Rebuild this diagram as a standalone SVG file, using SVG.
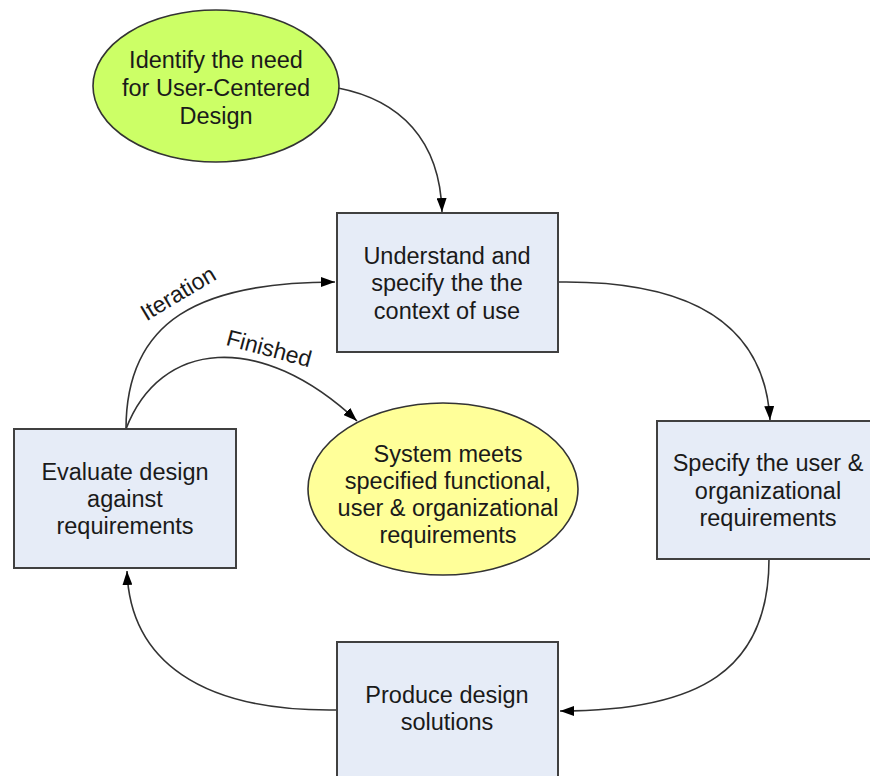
<svg xmlns="http://www.w3.org/2000/svg" width="870" height="776" viewBox="0 0 870 776">
<defs>
<marker id="arr" viewBox="0 0 14 10" refX="14" refY="5" markerWidth="14" markerHeight="10" markerUnits="userSpaceOnUse" orient="auto">
<path d="M0,0 L14,5 L0,10 z" fill="#000"/>
</marker>
<style>
.box{fill:#E6ECF7;stroke:#404040;stroke-width:2}
.t{font-family:"Liberation Sans",Arial,sans-serif;font-size:23.5px;fill:#1a1a1a;text-anchor:middle}
.c{fill:none;stroke:#333;stroke-width:1.6;marker-end:url(#arr)}
.lbl{font-family:"Liberation Sans",Arial,sans-serif;font-size:23px;fill:#1a1a1a;text-anchor:middle}
</style>
</defs>
<rect width="870" height="776" fill="#fff"/>
<g id="connectors">
<path class="c" d="M338,88 C400,100 440,140 442,212"/>
<path class="c" d="M558,282 C700,280 765,330 770,420"/>
<path class="c" d="M769,559 C769,670 700,711 560,711"/>
<path class="c" d="M337,710 C200,712 130,660 127,571"/>
<path class="c" d="M126,429 C126,320 200,282 335,282"/>
<path class="c" d="M126,429 C160,340 260,330 357,421"/>
<text class="lbl" transform="translate(182,300) rotate(-31)">Iteration</text>
<text class="lbl" transform="translate(267,356) rotate(15)">Finished</text>
</g>
<g id="identify">
<ellipse cx="216" cy="86" rx="123" ry="76" fill="#CCFF66" stroke="#333" stroke-width="1.6"/>
<text class="t" x="216" y="68">Identify the need</text>
<text class="t" x="216" y="96">for User-Centered</text>
<text class="t" x="216" y="124">Design</text>
</g>
<g id="understand">
<rect class="box" x="337" y="213" width="221" height="139"/>
<text class="t" x="447" y="264">Understand and</text>
<text class="t" x="447" y="291">specify the the</text>
<text class="t" x="447" y="319">context of use</text>
</g>
<g id="specify">
<rect class="box" x="657" y="421" width="222" height="138"/>
<text class="t" x="768" y="471">Specify the user &amp;</text>
<text class="t" x="768" y="499">organizational</text>
<text class="t" x="768" y="526">requirements</text>
</g>
<g id="produce">
<rect class="box" x="337" y="642" width="221" height="140"/>
<text class="t" x="447" y="703">Produce design</text>
<text class="t" x="447" y="730">solutions</text>
</g>
<g id="evaluate">
<rect class="box" x="14" y="429" width="222" height="139"/>
<text class="t" x="125" y="480">Evaluate design</text>
<text class="t" x="125" y="507">against</text>
<text class="t" x="125" y="534">requirements</text>
</g>
<g id="system">
<ellipse cx="443" cy="489" rx="135" ry="86" fill="#FFFF99" stroke="#333" stroke-width="1.6"/>
<text class="t" x="448" y="462">System meets</text>
<text class="t" x="448" y="489">specified functional,</text>
<text class="t" x="448" y="516">user &amp; organizational</text>
<text class="t" x="448" y="543">requirements</text>
</g>
</svg>
